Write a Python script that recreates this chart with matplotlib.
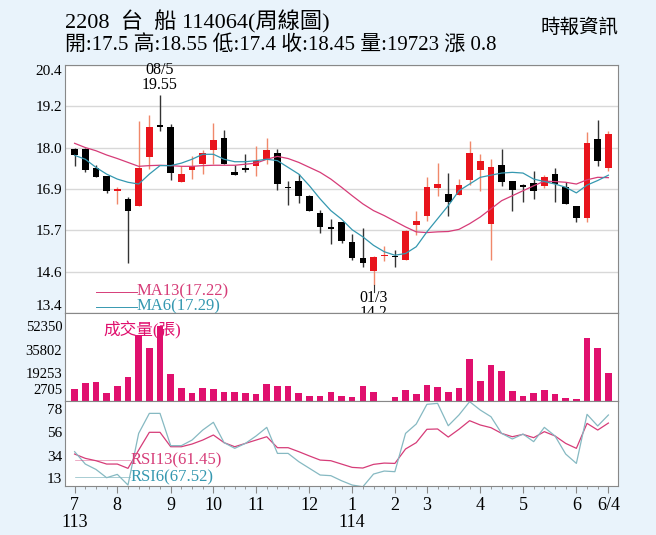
import numpy as np
import matplotlib
matplotlib.use('Agg')
import matplotlib.pyplot as plt

plt.rcParams['font.family'] = ['Liberation Serif', 'Noto Sans CJK TC']

# 周線 OHLC (113/7 ~ 114/6)
opens = [18.04, 18.04, 17.50, 17.28, 16.85, 16.62, 16.43, 17.79, 18.70, 18.65,
         17.10, 17.44, 17.60, 18.00, 18.35, 17.38, 17.49, 17.55, 17.76, 17.93,
         16.95, 17.13, 16.69, 16.22, 15.80, 15.97, 15.41, 14.94, 14.59, 15.01,
         15.00, 14.91, 15.87, 16.13, 16.93, 16.76, 16.73, 17.14, 17.44, 15.92,
         17.57, 17.12, 17.00, 17.07, 16.98, 17.32, 16.97, 16.41, 16.08, 18.30, 17.50]
highs = [18.05, 18.05, 17.59, 17.28, 16.97, 16.67, 18.82, 19.00, 19.55, 18.74,
         17.56, 17.84, 18.00, 18.77, 18.56, 17.57, 17.88, 18.10, 18.35, 18.02,
         17.12, 17.32, 16.72, 16.30, 16.06, 15.97, 15.62, 15.80, 15.00, 15.28,
         15.17, 15.73, 16.27, 17.25, 17.63, 17.34, 17.18, 18.26, 17.88, 17.74,
         18.04, 17.12, 17.04, 17.42, 17.29, 17.48, 17.09, 16.43, 18.51, 18.86, 18.55]
lows = [17.54, 17.39, 17.25, 16.78, 16.48, 14.80, 16.43, 17.46, 18.55, 17.14,
        17.10, 17.18, 17.32, 17.60, 17.60, 17.30, 17.37, 17.28, 17.60, 16.88,
        16.46, 16.51, 16.28, 15.67, 15.36, 15.38, 14.89, 14.71, 14.20, 14.86,
        14.71, 14.91, 15.59, 16.00, 16.71, 16.14, 16.73, 17.00, 16.83, 14.90,
        16.98, 16.27, 16.53, 16.62, 16.92, 16.53, 16.48, 15.97, 15.97, 17.54, 17.40]
closes = [17.85, 17.43, 17.25, 16.83, 16.87, 16.27, 17.49, 18.65, 18.66, 17.34,
          17.32, 17.54, 17.93, 18.28, 17.60, 17.30, 17.44, 17.70, 18.00, 17.04,
          16.93, 16.69, 16.28, 15.83, 15.78, 15.43, 14.94, 14.80, 14.99, 15.04,
          14.98, 15.71, 16.00, 16.97, 17.03, 16.53, 17.02, 17.93, 17.68, 17.53,
          17.09, 16.88, 16.97, 16.84, 17.23, 17.04, 16.48, 16.08, 18.19, 17.70, 18.45]

ma13 = [18.19, 18.07, 17.98, 17.86, 17.76, 17.65, 17.54, 17.56, 17.57, 17.56,
        17.54, 17.54, 17.56, 17.57, 17.57, 17.57, 17.60, 17.63, 17.74, 17.82,
        17.76, 17.65, 17.51, 17.37, 17.18, 16.95, 16.71, 16.48, 16.29, 16.15,
        15.99, 15.83, 15.69, 15.67, 15.69, 15.70, 15.76, 15.92, 16.11, 16.34,
        16.57, 16.71, 16.85, 16.99, 17.12, 17.11, 17.09, 17.04, 17.16, 17.23, 17.22]
ma6 = [17.85, 17.74, 17.51, 17.32, 17.18, 17.09, 17.04, 17.32, 17.56, 17.56,
       17.63, 17.74, 17.88, 17.88, 17.74, 17.67, 17.67, 17.70, 17.74, 17.70,
       17.51, 17.32, 16.99, 16.62, 16.29, 16.05, 15.75, 15.55, 15.31, 15.13,
       15.03, 15.08, 15.27, 15.69, 16.06, 16.43, 16.85, 17.04, 17.23, 17.29,
       17.35, 17.37, 17.35, 17.18, 17.11, 17.04, 16.95, 16.79, 17.01, 17.14, 17.29]

volume = [8600, 12800, 13300, 5350, 10200, 16500, 46100, 37000, 52600, 18800,
          9300, 5350, 9300, 8100, 6500, 6000, 5350, 5100, 11600, 10700,
          10200, 5800, 3500, 3700, 6000, 3300, 2800, 10500, 6300, 0,
          2800, 7400, 4900, 11200, 9800, 6000, 8800, 29300, 14200, 24900,
          20900, 6700, 3300, 5800, 7900, 4900, 2100, 1200, 43700, 37000, 19723]

rsi13 = [35.7, 31.7, 29.5, 26.4, 26.4, 22.4, 39.4, 55.9, 55.9, 42.5,
         42.5, 45.0, 48.7, 53.4, 46.3, 42.5, 45.6, 48.7, 51.8, 41.6,
         41.6, 37.9, 33.9, 30.1, 29.5, 26.4, 23.3, 22.7, 26.1, 27.3,
         27.0, 40.4, 46.3, 58.7, 59.0, 51.5, 58.7, 66.7, 62.7, 60.2,
         54.9, 51.8, 54.0, 50.9, 56.5, 52.5, 45.6, 41.0, 64.2, 58.0, 64.5]
rsi6 = [37.9, 26.4, 21.4, 13.7, 16.8, 6.9, 54.9, 73.5, 73.5, 43.5,
        43.5, 48.7, 58.0, 65.2, 46.3, 41.0, 45.6, 52.5, 60.5, 36.3,
        36.3, 28.6, 22.4, 16.2, 15.6, 10.9, 6.9, 5.3, 17.1, 19.9,
        19.3, 54.9, 63.6, 81.9, 82.8, 62.0, 72.0, 84.4, 76.6, 70.4,
        54.9, 49.7, 54.3, 47.2, 60.5, 52.5, 35.7, 27.0, 72.6, 61.8, 72.0]

month_idx = [0, 4, 9, 13, 17, 22, 26, 30, 33, 38, 42, 47, 50]
month_lbl = ['7\n113', '8', '9', '10', '11', '12', '1\n114', '2', '3', '4', '5', '6', '6/4']

price_ticks = ['13.4', '14.6', '15.7', '16.9', '18.0', '19.2', '20.4']
vol_ticks = [2705, 19253, 35802, 52350]
rsi_ticks = [13, 34, 56, 78]

RED = '#e8141c'
MAG = '#e0106e'
PINK = '#d63c78'
TEAL = '#3598b0'
LTEAL = '#86b9c2'
BG = '#e9f3fb'

x = np.arange(len(closes))
W, H = 656, 535
fig = plt.figure(figsize=(W / 100, H / 100), dpi=100, facecolor=BG)

def box(l, t, r, b):
    return [l / W, 1 - b / H, (r - l) / W, (b - t) / H]

ax1 = fig.add_axes(box(65, 65, 618, 313))
ax2 = fig.add_axes(box(65, 313, 618, 401), sharex=ax1)
ax3 = fig.add_axes(box(65, 401, 618, 486), sharex=ax1)

for ax in (ax1, ax2, ax3):
    ax.set_facecolor('white')
    for s in ax.spines.values():
        s.set_color('#888888')
        s.set_linewidth(0.8)
    ax.tick_params(labelsize=11, length=0, pad=2)
ax1.set_xlim(-0.9, len(closes) - 0.1)

# K 線
ax1.set_ylim(13.4, 20.4)
ax1.set_yticks(np.linspace(13.4, 20.4, 7))
ax1.set_yticklabels(price_ticks)
ylabs = ax1.get_yticklabels()
ylabs[0].set_va('bottom')
ylabs[-1].set_va('top')
ax1.grid(axis='y', color='#d8d8d8', linewidth=1)
ax1.set_axisbelow(True)
for i in x:
    up = closes[i] >= opens[i]
    wick = '#f0886a' if up else '#333333'
    ax1.vlines(i, lows[i], highs[i], color=wick, linewidth=1, zorder=2)
    lo, hi = min(opens[i], closes[i]), max(opens[i], closes[i])
    ax1.bar(i, max(hi - lo, 0.04), bottom=lo, width=0.62,
            color=RED if up else 'black', zorder=3)
ax1.plot(x, ma13, color=PINK, linewidth=0.9, zorder=4)
ax1.plot(x, ma6, color=TEAL, linewidth=0.9, zorder=4)

ax1.text(8, 19.6, '08/5\n19.55', ha='center', va='bottom', fontsize=11.5, linespacing=0.95)
ax1.plot([28, 28], [14.2, 14.0], color='#333333', linewidth=0.8)
ax1.text(28, 14.05, '01/3\n14.2', ha='center', va='top', fontsize=11.5, linespacing=0.95)

ax1.plot([2.0, 5.8], [14.0, 14.0], color=PINK, linewidth=0.7)
ax1.text(5.8, 14.0, 'MA13(17.22)', color=PINK, fontsize=12, va='center')
ax1.plot([2.0, 5.8], [13.58, 13.58], color=TEAL, linewidth=0.7)
ax1.text(5.8, 13.58, 'MA6(17.29)', color=TEAL, fontsize=12, va='center')

# 成交量
ax2.bar(x, volume, width=0.62, color=MAG)
ax2.set_ylim(0, 61400)
ax2.set_yticks(vol_ticks)
ax2.set_yticklabels([str(v) for v in vol_ticks], fontsize=10.5)
ax2.get_yticklabels()[0].set_va('bottom')
ax2.text(0.07, 0.8, '成交量(張)', transform=ax2.transAxes, color=MAG,
         fontsize=12, va='center', family=['Liberation Serif', 'Noto Sans CJK TC'])

# RSI
ax3.plot(x, rsi13, color=PINK, linewidth=0.9)
ax3.plot(x, rsi6, color=LTEAL, linewidth=0.9)
ax3.set_ylim(6, 85)
ax3.set_yticks(rsi_ticks)
ax3.plot([0, 5.2], [30, 30], color=PINK, linewidth=0.5, alpha=0.6)
ax3.text(5.2, 30, 'RSI13(61.45)', color=PINK, fontsize=12, va='center')
ax3.plot([0, 5.2], [14, 14], color=LTEAL, linewidth=0.5)
ax3.text(5.2, 14, 'RSI6(67.52)', color=TEAL, fontsize=12, va='center')

ax3.set_xticks(x, minor=True)
ax3.set_xticks(month_idx)
ax3.set_xticklabels(month_lbl, fontsize=13, linespacing=1.0)
ax3.tick_params(axis='x', which='major', length=5, color='#888888', pad=3)
ax3.tick_params(axis='x', which='minor', length=2, color='#888888')
plt.setp(ax1.get_xticklabels(), visible=False)
plt.setp(ax2.get_xticklabels(), visible=False)
ax1.tick_params(axis='x', length=0)
ax2.tick_params(axis='x', length=0)

fig.text(65 / W, 1 - 22 / H, '2208  台  船 114064(周線圖)', fontsize=16, va='center')
fig.text(65 / W, 1 - 46 / H, '開:17.5 高:18.55 低:17.4 收:18.45 量:19723 漲 0.8',
         fontsize=15, va='center')
fig.text(618 / W, 1 - 27 / H, '時報資訊', fontsize=14, va='center', ha='right')

fig.savefig('out.png', dpi=100, facecolor=BG)
